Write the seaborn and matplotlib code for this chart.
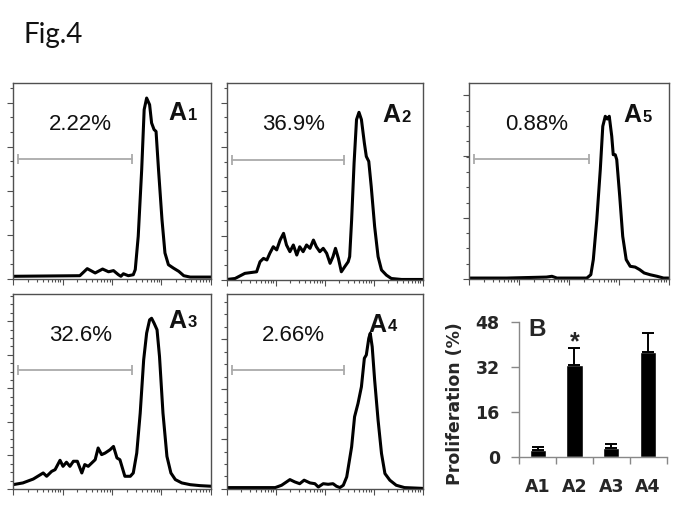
import numpy as np
import pandas as pd
import matplotlib
matplotlib.use("Agg")
import matplotlib.pyplot as plt
import seaborn as sns
from matplotlib.ticker import MultipleLocator, FixedLocator

# ---------------- data ----------------
# Histograms: x = log10 fluorescence (decades), y = relative cell count (% of axis)
a1_x = [0.00, 1.35, 1.50, 1.66, 1.81, 1.93, 2.03, 2.13, 2.18, 2.23, 2.33, 2.43, 2.47, 2.53, 2.60,
        2.65, 2.70, 2.76, 2.80, 2.85, 2.89, 2.94, 3.01, 3.07, 3.14, 3.24, 3.35, 3.45, 3.58, 4.00]
a1_y = [1.4, 1.7, 5.3, 3.1, 5.1, 3.7, 4.3, 2.2, 1.4, 2.7, 1.7, 2.2, 4.8, 21.8, 55.8,
        86.4, 92.3, 88.9, 79.6, 76.2, 75.3, 55.8, 30.3, 13.3, 7.3, 5.6, 3.9, 1.7, 1.0, 1.0]

a2_x = [0.00, 0.17, 0.37, 0.61, 0.68, 0.75, 0.82, 0.88, 0.95, 1.02, 1.09, 1.16, 1.22, 1.29, 1.36,
        1.43, 1.49, 1.56, 1.63, 1.70, 1.77, 1.83, 1.90, 1.97, 2.04, 2.11, 2.17, 2.22, 2.28, 2.34,
        2.41, 2.48, 2.51, 2.55, 2.60, 2.65, 2.70, 2.75, 2.81, 2.85, 2.90, 2.95, 3.02, 3.09, 3.16,
        3.26, 3.36, 3.57, 4.00]
a2_y = [0.3, 0.8, 3.4, 4.2, 9.3, 11.0, 10.2, 13.6, 16.9, 15.3, 20.3, 23.7, 17.8, 14.4, 17.8,
        12.7, 16.9, 14.4, 17.8, 16.1, 20.3, 16.9, 14.4, 16.1, 13.6, 8.5, 11.9, 16.1, 11.0, 4.2,
        6.8, 9.3, 11.9, 30.5, 59.3, 81.4, 85.1, 81.4, 69.5, 62.7, 60.2, 47.5, 27.1, 11.9, 5.1,
        2.5, 0.8, 0.3, 0.3]

a3_x = [0.00, 0.20, 0.41, 0.61, 0.68, 0.78, 0.85, 0.95, 1.01, 1.08, 1.15, 1.22, 1.30, 1.39, 1.45,
        1.52, 1.59, 1.66, 1.72, 1.79, 1.86, 1.96, 2.03, 2.10, 2.16, 2.20, 2.26, 2.37, 2.43, 2.50,
        2.57, 2.64, 2.70, 2.76, 2.80, 2.85, 2.91, 2.96, 3.03, 3.11, 3.19, 3.28, 3.41, 3.58, 3.78, 4.00]
a3_y = [2.2, 3.1, 5.1, 8.2, 6.5, 9.0, 9.9, 14.7, 11.6, 13.7, 11.6, 14.2, 14.2, 8.2, 12.5,
        11.6, 13.3, 15.0, 21.0, 17.6, 18.4, 20.1, 21.8, 15.9, 15.0, 11.6, 6.5, 6.5, 8.2, 18.4,
        38.9, 66.2, 79.9, 86.7, 87.5, 85.0, 81.6, 67.9, 38.9, 16.7, 8.2, 4.8, 3.1, 2.2, 1.7, 1.4]

a4_x = [0.00, 0.44, 0.99, 1.12, 1.22, 1.29, 1.39, 1.49, 1.58, 1.70, 1.80, 1.87, 1.97, 2.07, 2.17,
        2.24, 2.31, 2.38, 2.45, 2.55, 2.61, 2.68, 2.75, 2.81, 2.85, 2.90, 2.93, 2.97, 3.02, 3.09,
        3.16, 3.23, 3.33, 3.46, 3.63, 4.00]
a4_y = [0.7, 0.7, 0.7, 1.9, 3.6, 4.8, 3.6, 2.7, 4.5, 3.1, 2.7, 1.0, 2.7, 2.4, 2.7,
        1.4, 0.7, 1.9, 6.2, 21.6, 37.0, 43.8, 52.4, 67.0, 68.7, 77.2, 79.8, 72.9, 55.8, 35.3,
        18.2, 7.9, 4.5, 1.9, 0.7, 0.3]

a5_x = [0.00, 0.75, 1.55, 1.66, 1.76, 2.36, 2.44, 2.49, 2.56, 2.63, 2.68, 2.73, 2.77, 2.81, 2.86,
        2.89, 2.93, 2.96, 3.02, 3.08, 3.15, 3.23, 3.33, 3.42, 3.51, 3.63, 3.77, 3.90, 4.00]
a5_y = [0.5, 0.5, 1.0, 1.4, 0.5, 0.5, 2.2, 9.9, 30.3, 55.8, 77.9, 83.0, 81.6, 83.0, 72.8,
        63.4, 63.4, 60.9, 42.2, 21.8, 9.9, 6.5, 6.1, 4.8, 3.1, 2.2, 1.4, 0.5, 0.5]

pct_labels = ["2.22%", "36.9%", "32.6%", "2.66%", "0.88%"]
panel_digits = ["1", "2", "3", "4", "5"]
gate_range = [0.1, 2.4]   # gate in decades
gate_level = 61           # gate height (% of axis)

# Bar chart B
groups = ["A1", "A2", "A3", "A4"]
prolif = [2.6, 32.6, 3.2, 37.3]
prolif_err = [1.0, 6.1, 1.4, 6.8]
star_group = 1
star_y = 40.8

# ---------------- style ----------------
sns.set_theme(style="white")
plt.rcParams["font.family"] = ["Liberation Sans", "DejaVu Sans"]

fig = plt.figure(figsize=(6.85, 5.12), dpi=100)

frame_col = "#505050"

panels = [
    (a1_x, a1_y, [0.019, 0.455, 0.289, 0.383], (0.785, 0.81), (7.5, 22.5)),
    (a2_x, a2_y, [0.331, 0.453, 0.286, 0.385], (0.795, 0.80), (7.5, 22.5)),
    (a3_x, a3_y, [0.019, 0.045, 0.289, 0.381], (0.785, 0.826), (4.3, 17.2)),
    (a4_x, a4_y, [0.331, 0.045, 0.286, 0.381], (0.725, 0.805), (6.4, 25.7)),
    (a5_x, a5_y, [0.685, 0.455, 0.291, 0.383], (0.775, 0.80), (7.8, 31.3)),
]

log_minor = [d + np.log10(k) for d in range(4) for k in range(2, 10)]

for i, (xs, ys, rect, apos, (ymin_step, ymaj_step)) in enumerate(panels):
    ax = fig.add_axes(rect)
    sns.lineplot(x=xs, y=ys, ax=ax, color="black", lw=2.2, sort=False,
                 estimator=None, solid_joinstyle="round")
    ax.set_xlim(0, 4)
    ax.set_ylim(0, 100)
    ax.set_xlabel("")
    ax.set_ylabel("")
    for sp in ax.spines.values():
        sp.set_visible(True)
        sp.set_color(frame_col)
        sp.set_linewidth(1.0)
    ax.xaxis.set_major_locator(MultipleLocator(1))
    ax.xaxis.set_minor_locator(FixedLocator(log_minor))
    ax.yaxis.set_major_locator(MultipleLocator(ymaj_step))
    ax.yaxis.set_minor_locator(MultipleLocator(ymin_step))
    ax.tick_params(axis="both", which="both", direction="out", color=frame_col,
                   left=True, bottom=True, labelleft=False, labelbottom=False, width=0.8)
    ax.tick_params(axis="both", which="major", length=4)
    ax.tick_params(axis="both", which="minor", length=2.5)

    # gate marker
    ax.plot(gate_range, [gate_level, gate_level], color="#aaaaaa", lw=1.3,
            marker="|", ms=7, mew=1.3)
    ax.text(0.34, 0.787, pct_labels[i], transform=ax.transAxes, ha="center",
            va="center", fontsize=16, color="#111111")
    at = ax.text(apos[0], apos[1], "A", transform=ax.transAxes, ha="left",
                 va="baseline", fontsize=18, fontweight="bold", color="#111111")
    ax.annotate(panel_digits[i], xy=(1, 0), xycoords=at, xytext=(0.8, 1.8),
                textcoords="offset points", ha="left", va="bottom",
                fontsize=12, fontweight="bold", color="#111111")

# ---------------- bar chart B ----------------
bfont = ["DejaVu Sans"]
bx = fig.add_axes([0.758, 0.107, 0.215, 0.264])
df = pd.DataFrame({"group": groups, "value": prolif})
sns.barplot(data=df, x="group", y="value", color="black", width=0.44,
            saturation=1, errorbar=None, ax=bx)
bx.errorbar(range(len(groups)), prolif, yerr=[np.zeros(len(groups)), prolif_err],
            fmt="none", ecolor="black", elinewidth=1.4, capsize=4, capthick=1.4)
bx.set_xlim(-0.5, len(groups) - 0.5)
bx.set_ylim(0, 48)
bx.set_yticks([0, 16, 32, 48])
bx.xaxis.set_minor_locator(FixedLocator(np.arange(-0.5, len(groups), 1.0)))
for s in ["top", "right"]:
    bx.spines[s].set_visible(False)
for s in ["left", "bottom"]:
    bx.spines[s].set_color("#888888")
    bx.spines[s].set_linewidth(1.0)
bx.tick_params(axis="x", which="major", length=0, pad=15, labelsize=12.5)
bx.tick_params(axis="x", which="minor", bottom=True, direction="out", length=5,
               color="#888888", width=1.0)
bx.tick_params(axis="y", which="major", left=True, direction="out", length=6,
               color="#888888", width=1.0, pad=8, labelsize=12.5)
for lab in bx.get_xticklabels() + bx.get_yticklabels():
    lab.set_fontweight("bold")
    lab.set_family(bfont)
bx.set_xlabel("")
bx.set_ylabel("Proliferation (%)", fontsize=12.5, fontweight="bold", family=bfont)
bx.yaxis.set_label_coords(-0.375, 0.40)
bx.text(0.06, 0.90, "B", transform=bx.transAxes, fontsize=17.5, fontweight="bold",
        va="baseline", ha="left")
bx.text(star_group, star_y, "*", ha="center", va="center", fontsize=18,
        fontweight="bold")

fig.text(0.034, 0.916, "Fig.4", fontsize=20, family=["Lato", "DejaVu Sans"],
         va="baseline", ha="left", color="#111111")

fig.savefig("out.png", dpi=100)
